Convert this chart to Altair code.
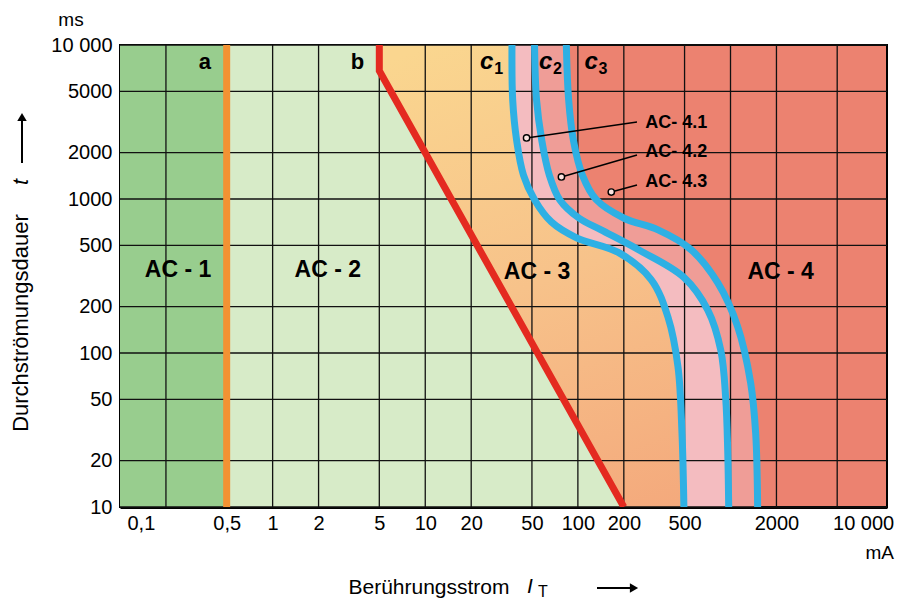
import altair as alt
import pandas as pd

FONT = "Liberation Sans"

# ---- axis values ----
x_label_values = [0.1, 0.5, 1, 2, 5, 10, 20, 50, 100, 200, 500, 2000, 10000]
x_grid_values = [0.2, 0.5, 1, 2, 5, 10, 20, 50, 100, 200, 500, 1000, 2000, 5000]
y_values = [10, 20, 50, 100, 200, 500, 1000, 2000, 5000, 10000]

# ---- boundary curves (current mA, duration ms) ----
a_I = [0.5, 0.5]
a_t = [10000, 10]
b_I = [5, 5, 200]
b_t = [10000, 6800, 10]
c1_I = [37, 37.4, 39.7, 44, 52, 67, 98, 184, 302, 390, 453, 481, 495]
c1_t = [10000, 4400, 2400, 1430, 990, 710, 560, 450, 300, 170, 81, 30, 10]
c2_I = [52, 53.6, 58, 65, 76, 102, 142, 248, 495, 710, 864, 931, 959, 973]
c2_t = [10000, 4400, 2400, 1430, 990, 750, 630, 470, 310, 190, 104, 50, 23, 10]
c3_I = [84, 87, 93.5, 107, 132, 201, 335, 550, 826, 1115, 1355, 1462, 1506]
c3_t = [10000, 4400, 2400, 1430, 990, 750, 630, 470, 285, 148, 64, 30, 10]

# ---- labels ----
zone_text = ["AC - 1", "AC - 2", "AC - 3", "AC - 4"]
zone_I = [0.24, 2.3, 54, 2130]
zone_t = [346, 346, 336, 336]

letter_text = ["a", "b"]
letter_I = [0.36, 3.6]
letter_t = [7760, 7760]

c_text = ["c", "c", "c"]
c_sub = ["1", "2", "3"]
c_I = [25.3, 61.4, 122]
c_t = [7760, 7760, 7760]

call_text = ["AC- 4.1", "AC- 4.2", "AC- 4.3"]
call_text_I = [276, 276, 276]
call_text_t = [3120, 2018, 1288]
call_end_I = [244, 244, 244]
call_end_t = [3162, 1931, 1233]
call_pt_I = [46.1, 78.0, 165.5]
call_pt_t = [2490, 1390, 1110]

# ---- colours ----
AC1 = "#98cd8e"
AC2 = "#d7ebc8"
C12 = "#f4bcc0"
C23 = "#ef9d97"
AC4 = "#ec8270"
BLUE = "#2eb0e4"
RED = "#e42a20"
ORANGE = "#f39233"
AC3 = alt.LinearGradient(
    gradient="linear",
    stops=[alt.GradientStop(color="#fad68f", offset=0),
           alt.GradientStop(color="#f7c28a", offset=0.5),
           alt.GradientStop(color="#f4a97c", offset=1)],
    x1=0.55, y1=0, x2=1, y2=1,
)

XMIN, XMAX = 0.1, 10600
xs = alt.Scale(type="log", domain=[XMIN, XMAX], nice=False)
ys = alt.Scale(type="log", domain=[10, 10000], nice=False)

x_axis = alt.Axis(
    values=x_label_values,
    labelExpr="datum.value == 10000 ? '10 000' : replace(toString(datum.value), '.', ',')",
    grid=False, ticks=False, domainColor="black", domainWidth=3,
    labelFontSize=20, labelFont=FONT, labelColor="black", labelPadding=6,
    labelOverlap=False, labelBound=False, title=None,
    labelOffset={"condition": [{"test": "datum.value < 0.15", "value": 7},
                               {"test": "datum.value >= 10000", "value": -20}],
                 "value": 0},
)
y_axis = alt.Axis(
    values=y_values,
    labelExpr="datum.value == 10000 ? '10 000' : toString(datum.value)",
    grid=False, ticks=False, domainColor="black", domainWidth=3,
    labelFontSize=20, labelFont=FONT, labelColor="black", labelPadding=8,
    labelOverlap=False, title=None,
)


def X(field="I"):
    return alt.X(f"{field}:Q", scale=xs, axis=x_axis)


def Y(field="t"):
    return alt.Y(f"{field}:Q", scale=ys, axis=y_axis)


def curve_df(I, t):
    return pd.DataFrame({"I": I, "t": t, "I0": [XMIN] * len(I)})


def fill(I, t, color, interp):
    return alt.Chart(curve_df(I, t)).mark_area(
        orient="horizontal", color=color, interpolate=interp, clip=True, opacity=1
    ).encode(y=Y(), x=X(), x2="I0:Q")


def line(I, t, color, interp):
    df = curve_df(I, t)
    df["k"] = list(range(len(I)))
    return alt.Chart(df).mark_line(
        color=color, strokeWidth=7, interpolate=interp, clip=True, strokeCap="butt"
    ).encode(y=Y(), x=X(), order=alt.Order("k:Q"))


fills = [
    fill(c3_I, c3_t, C23, "catmull-rom"),
    fill(c2_I, c2_t, C12, "catmull-rom"),
    fill(c1_I, c1_t, AC3, "catmull-rom"),
    fill(b_I, b_t, AC2, "linear"),
    fill(a_I, a_t, AC1, "linear"),
]

grid_x = alt.Chart(pd.DataFrame({"I": x_grid_values})).mark_rule(
    color="#111111", strokeWidth=1.3
).encode(x=X())
grid_y = alt.Chart(pd.DataFrame({"t": y_values})).mark_rule(
    color="#111111", strokeWidth=1.3
).encode(y=Y())

lines = [
    line(a_I, a_t, ORANGE, "linear"),
    line(b_I, b_t, RED, "linear"),
    line(c1_I, c1_t, BLUE, "catmull-rom"),
    line(c2_I, c2_t, BLUE, "catmull-rom"),
    line(c3_I, c3_t, BLUE, "catmull-rom"),
]

zones = alt.Chart(pd.DataFrame({"I": zone_I, "t": zone_t, "s": zone_text})).mark_text(
    font=FONT, fontSize=23, fontWeight="bold", color="black"
).encode(x=X(), y=Y(), text="s:N")

letters = alt.Chart(pd.DataFrame({"I": letter_I, "t": letter_t, "s": letter_text})).mark_text(
    font=FONT, fontSize=22, fontWeight="bold", color="black"
).encode(x=X(), y=Y(), text="s:N")

cdf = pd.DataFrame({"I": c_I, "t": c_t, "s": c_text, "n": c_sub})
c_letters = alt.Chart(cdf).mark_text(
    font=FONT, fontSize=24, fontWeight="bold", fontStyle="italic", color="black"
).encode(x=X(), y=Y(), text="s:N")
c_subs = alt.Chart(cdf).mark_text(
    font=FONT, fontSize=16, fontWeight="bold", color="black", dx=12, dy=7
).encode(x=X(), y=Y(), text="n:N")

cal = pd.DataFrame({"I": call_text_I, "t": call_text_t, "s": call_text,
                    "I1": call_end_I, "t1": call_end_t,
                    "I2": call_pt_I, "t2": call_pt_t})
call_lines = alt.Chart(cal).mark_rule(color="black", strokeWidth=1.4).encode(
    x=X("I1"), y=Y("t1"), x2="I2:Q", y2="t2:Q")
call_pts = alt.Chart(cal).mark_point(
    shape="circle", size=40, filled=True, fill="#fbe3e0", stroke="black", strokeWidth=1.4, opacity=1
).encode(x=X("I2"), y=Y("t2"))
call_txt = alt.Chart(cal).mark_text(
    font=FONT, fontSize=18, fontWeight="bold", color="black", align="left"
).encode(x=X(), y=Y(), text="s:N")

# ---- titles / units outside the plot ----
one = pd.DataFrame({"s": ["x"]})
ms_txt = alt.Chart(one).mark_text(text="ms", font=FONT, fontSize=19, color="black").encode(
    x=alt.value(-49), y=alt.value(-25))
ma_txt = alt.Chart(one).mark_text(text="mA", font=FONT, fontSize=19, color="black", align="right").encode(
    x=alt.value(774), y=alt.value(508))
xt = alt.Chart(one).mark_text(text="Berührungsstrom", font=FONT, fontSize=21, color="black").encode(
    x=alt.value(309), y=alt.value(543))
xt_i = alt.Chart(one).mark_text(text="I", font=FONT, fontSize=21, fontStyle="italic", color="black").encode(
    x=alt.value(410), y=alt.value(542))
xt_T = alt.Chart(one).mark_text(text="T", font=FONT, fontSize=16, color="black").encode(
    x=alt.value(423), y=alt.value(547))
x_arrow = alt.Chart(one).mark_rule(color="black", strokeWidth=2).encode(
    x=alt.value(477), x2=alt.value(510), y=alt.value(543))
x_head = alt.Chart(one).mark_point(shape="triangle-right", size=90, filled=True, color="black", opacity=1).encode(
    x=alt.value(514), y=alt.value(543))
yt = alt.Chart(one).mark_text(text="Durchströmungsdauer", font=FONT, fontSize=22, angle=270, color="black").encode(
    x=alt.value(-99), y=alt.value(278))
yt_t = alt.Chart(one).mark_text(text="t", font=FONT, fontSize=22, angle=270, fontStyle="italic", color="black").encode(
    x=alt.value(-99), y=alt.value(137))
y_arrow = alt.Chart(one).mark_rule(color="black", strokeWidth=2).encode(
    x=alt.value(-98), y=alt.value(118), y2=alt.value(76))
y_head = alt.Chart(one).mark_point(shape="triangle-up", size=90, filled=True, color="black", opacity=1).encode(
    x=alt.value(-98), y=alt.value(72))

chart = alt.layer(
    *fills, grid_x, grid_y, *lines,
    zones, letters, c_letters, c_subs, call_lines, call_pts, call_txt,
    ms_txt, ma_txt, xt, xt_i, xt_T, x_arrow, x_head, yt, yt_t, y_arrow, y_head,
).properties(
    width=767, height=462,
    autosize=alt.AutoSizeParams(type="none"),
    padding={"left": 112, "top": 37, "right": 9, "bottom": 95},
).configure_view(
    fill=AC4, stroke="black", strokeWidth=2
)

chart.save("out.html", embed_options={"renderer": "svg", "actions": False})
